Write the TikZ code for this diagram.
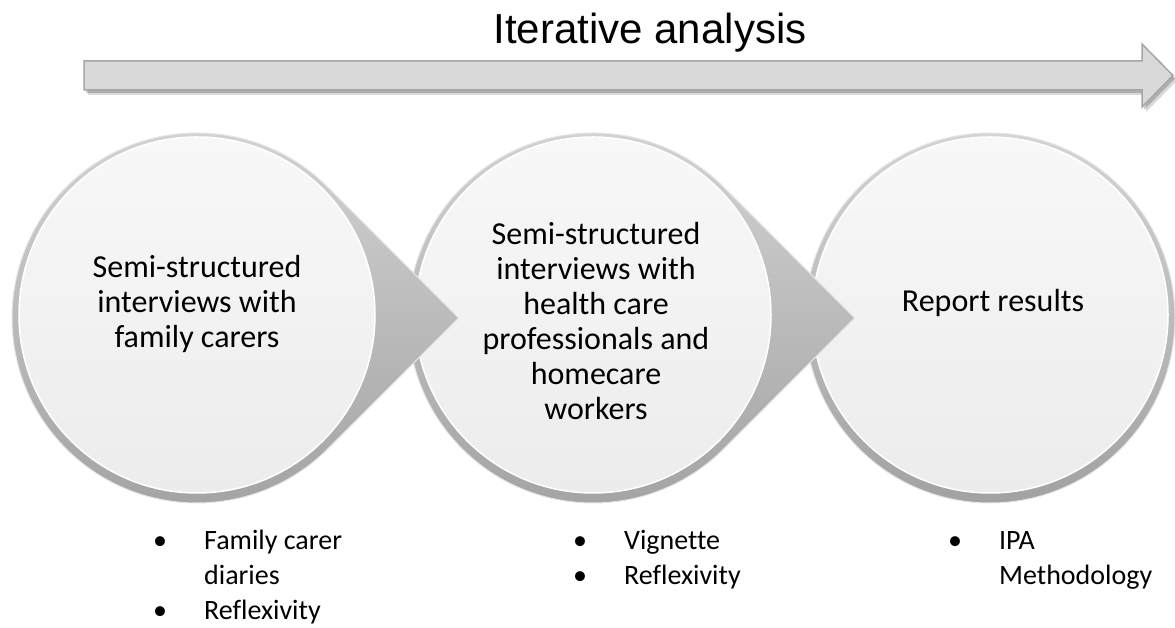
\documentclass[tikz,border=0pt]{standalone}
\usepackage{fontspec}
\setmainfont{Carlito}[Ligatures=CommonOff]
\newfontfamily\titlefont{Liberation Sans}
\usetikzlibrary{calc,shadows}
\definecolor{rimlight}{HTML}{D4D4D4}
\definecolor{rimdark}{HTML}{A2A2A2}
\definecolor{facelight}{HTML}{F8F8F8}
\definecolor{facedark}{HTML}{ECECEC}
\definecolor{barfill}{HTML}{D9D9D9}
\definecolor{barline}{HTML}{A6A6A6}
\newcommand{\stack}[2]{\begin{tabular}[t]{@{}#1@{}}#2\end{tabular}}

\begin{document}
\begin{tikzpicture}[x=1pt,y=1pt,
    rim/.style={top color=rimlight,bottom color=rimdark,draw=white!80!gray,line width=1pt},
    face/.style={top color=facelight,bottom color=facedark,draw=white,line width=1.5pt},
    circtext/.style={anchor=base,inner sep=0pt,font=\fontsize{32}{35}\selectfont},
    listtext/.style={anchor=base west,inner sep=0pt,font=\fontsize{28}{35}\selectfont}]
\useasboundingbox (0,0) rectangle (1175,628);

% timeline arrow
\draw[fill=barfill,draw=barline,line width=1.5pt,
      drop shadow={shadow xshift=4pt,shadow yshift=-5pt,fill=black,opacity=.15},
      drop shadow={shadow xshift=2pt,shadow yshift=-3pt,fill=black,opacity=.2}]
  (84,538) -- (1142,538) -- (1142,521) -- (1173,552.5) -- (1142,584) -- (1142,567) -- (84,567) -- cycle;
\node[font=\titlefont\fontsize{42}{50}\selectfont,anchor=base,inner sep=0pt] (title) at (650,584) {Iterative analysis};

% circles, right to left so that each tail lies over the next one
\coordinate (c1) at (197,310);
\coordinate (c2) at (593,310);
\coordinate (c3) at (990,310);

\path[rim] (c3) circle[radius=185];
\path[face] ($(c3)+(0,3)$) circle[radius=178];
\foreach \c in {c2,c1}{
  \path[rim] (\c) ++(45:185) -- ++(-45:185) -- ++(-135:185)
    arc[start angle=-45,end angle=-315,radius=185] -- cycle;
  \path[face] ($(\c)+(0,3)$) circle[radius=178];
}

\node[circtext] (t1) at (197,350) {\stack{c}{Semi-structured\\interviews with\\family carers}};
\node[circtext] (t2) at (596,383) {\stack{c}{Semi-structured\\interviews with\\health care\\professionals and\\homecare\\workers}};
\node[circtext] (t3) at (993,316) {Report results};

% methods under each step
\node[listtext] (l1) at (153,78) {\stack{l@{\hspace{37pt}}l}{\textbullet & Family carer\\ & diaries\\ \textbullet & Reflexivity}};
\node[listtext] (l2) at (573,78) {\stack{l@{\hspace{37pt}}l}{\textbullet & Vignette\\ \textbullet & Reflexivity}};
\node[listtext] (l3) at (948,78) {\stack{l@{\hspace{37pt}}l}{\textbullet & IPA\\ & Methodology}};
\end{tikzpicture}
\end{document}
